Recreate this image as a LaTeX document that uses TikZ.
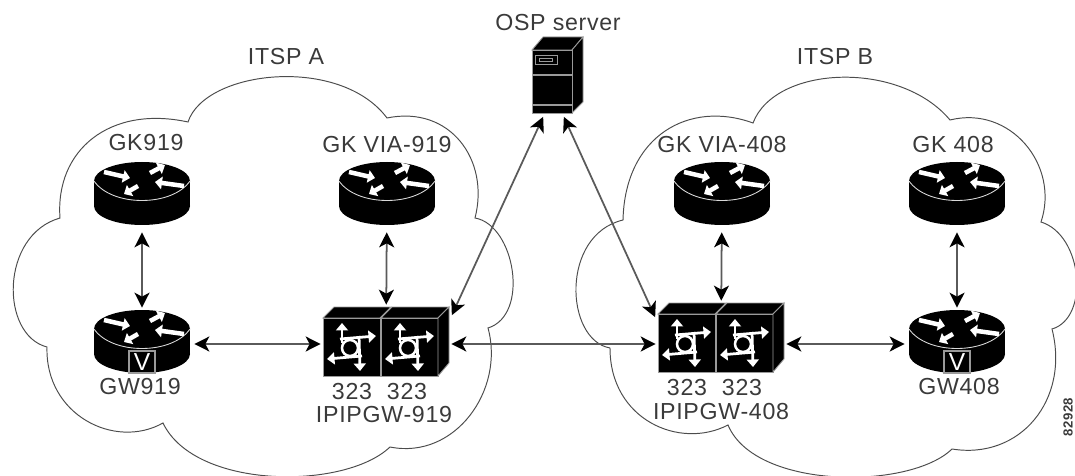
\documentclass[tikz,border=0pt]{standalone}
\usepackage{fontspec}
\setmainfont[LetterSpace=3]{Liberation Sans}
\usetikzlibrary{arrows.meta}

\definecolor{textgray}{HTML}{3A3A3A}
\definecolor{linkgray}{HTML}{5A5A5A}
\definecolor{edgegray}{HTML}{9A9A9A}

\tikzset{
    devlabel/.style={text=textgray, inner sep=0pt, font=\fontsize{13.2}{15}\selectfont},
    devnode/.style={inner sep=0pt, minimum width=2cm, minimum height=1.36cm},
    link/.style={draw=linkgray, line width=1pt, shorten <=0.04cm, shorten >=0.04cm,
        {Stealth[length=0.3cm,width=0.3cm,inset=0.08cm,color=black]}-{Stealth[length=0.3cm,width=0.3cm,inset=0.08cm,color=black]}},
    cloudline/.style={draw=black!70, line width=0.55pt},
    routerarrow/.style={draw=white, line width=0.09cm, -{Triangle[length=0.14cm,width=0.25cm,color=white]}},
    switcharrow/.style={draw=white, line width=0.055cm, -{Triangle[length=0.15cm,width=0.24cm,color=white]}},
    edge/.style={draw=edgegray, line width=0.5pt},
}

\NewDocumentCommand{\router}{mmmO{}}{%
\begin{scope}[shift={(#2,#3)}]%
\fill[black] (-48,-15) rectangle (48,10);
\fill[black] (0,-15) ellipse [x radius=48, y radius=19];
\fill[black] (0,10) ellipse [x radius=48, y radius=19];
\draw[edge, draw=white!85!black] (-48,-15) .. controls (-30,11) and (30,11) .. (48,-15);
\draw[routerarrow] (-38,-24) -- (-12,-18);
\draw[routerarrow] (8,-23) -- (23,-31);
\draw[routerarrow] (42,-10) -- (13,-14);
\draw[routerarrow] (-4,-10) -- (-18,-2);
\node[devnode] (#1) at (0,0) {};
#4
\end{scope}%
}

\NewDocumentCommand{\voicetag}{m}{%
\draw[edge, fill=black, line width=0.9pt] (-13,7) rectangle (13,29);
\node[text=white, inner sep=0pt, font=\fontsize{14}{15}\selectfont] (#1v) at (0,18) {V};
}

\NewDocumentCommand{\switchpair}{mmm}{%
\begin{scope}[shift={(#2,#3)}]%
\foreach \cx in {-63,-5} {
\begin{scope}[shift={(\cx,0)}]
\filldraw[edge, fill=black] (0,-24) -- (11,-35) -- (68,-35) -- (57,-24) -- cycle;
\filldraw[edge, fill=black] (0,-24) rectangle (57,34);
\begin{scope}[shift={(27,6)}]
\draw[switcharrow] (-8,-5) -- (-8,-25);
\draw[switcharrow] (-10,-9) -- (26,-12);
\draw[switcharrow] (9,-12) -- (10,23);
\draw[switcharrow] (12,8) -- (-23,11);
\filldraw[draw=white, fill=black, line width=0.05cm] (0,0) circle [radius=8];
\end{scope}
\end{scope}
}
\filldraw[edge, fill=black] (52,-24) -- (63,-35) -- (63,21) -- (52,34) -- cycle;
\node[inner sep=0pt, minimum width=2.52cm, minimum height=1.4cm] (#1) at (0,0) {};
\end{scope}%
}

\begin{document}
\begin{tikzpicture}[x=0.02cm, y=-0.02cm]
    \useasboundingbox (0,0) rectangle (1075,476);

    % Clouds.
    \draw[cloudline] (60,218) .. controls (55,150) and (110,105) .. (188,122)
        .. controls (205,70) and (340,55) .. (387,118)
        .. controls (450,105) and (490,160) .. (475,218)
        .. controls (515,225) and (530,315) .. (488,328)
        .. controls (505,390) and (455,460) .. (390,447)
        .. controls (345,490) and (195,490) .. (163,423)
        .. controls (115,450) and (45,415) .. (47,347)
        .. controls (0,335) and (0,235) .. cycle;
    \draw[cloudline] (623,220) .. controls (625,135) and (690,100) .. (753,123)
        .. controls (775,65) and (900,60) .. (950,120)
        .. controls (1010,105) and (1060,165) .. (1041,222)
        .. controls (1083,235) and (1090,318) .. (1052,329)
        .. controls (1070,400) and (1020,460) .. (952,449)
        .. controls (910,490) and (755,490) .. (728,425)
        .. controls (680,450) and (610,420) .. (610,348)
        .. controls (565,340) and (560,235) .. cycle;

    % Server.
    \begin{scope}
        \filldraw[edge, fill=black] (532,50) -- (543,37) -- (583,37) -- (572,50) -- cycle;
        \filldraw[edge, fill=black] (572,50) -- (583,37) -- (583,102) -- (572,113) -- cycle;
        \filldraw[edge, fill=black] (532,50) rectangle (572,113);
        \draw[edge] (535,55) rectangle (557,64);
        \draw[edge] (539,58) rectangle (552,61);
        \draw[edge, line width=0.9pt] (532,75) -- (572,75);
        \draw[edge, line width=0.9pt] (532,105) -- (572,105);
        \node[inner sep=0pt, minimum width=1.02cm, minimum height=1.52cm] (osp) at (557.5,75) {};
    \end{scope}

    % Devices.
    \router{gk919}{142}{196}
    \router{gkvia919}{387}{196}
    \router{gkvia408}{722}{196}
    \router{gk408}{957}{196}
    \router{gw919}{142}{344}[\voicetag{gw919}]
    \router{gw408}{957}{344}[\voicetag{gw408}]
    \switchpair{ipipgw919}{386}{342}
    \switchpair{ipipgw408}{721}{338}

    % Labels.
    \node[devlabel] (itspa) at (286,57) {ITSP A};
    \node[devlabel] (itspb) at (835,57) {ITSP B};
    \node[devlabel] (osplabel) at (558,23) {OSP server};
    \node[devlabel] (gk919label) at (146,143) {GK919};
    \node[devlabel] (gkvia919label) at (387,145) {GK VIA-919};
    \node[devlabel] (gkvia408label) at (722,145) {GK VIA-408};
    \node[devlabel] (gk408label) at (953,145) {GK 408};
    \node[devlabel] (gw919label) at (140,387) {GW919};
    \node[devlabel] (gw408label) at (959,387) {GW408};
    \node[devlabel] (h323a) at (352,392) {323};
    \node[devlabel] (ip323a) at (407,392) {323};
    \node[devlabel] (ipipgw919label) at (384,415) {IPIPGW-919};
    \node[devlabel] (h323b) at (687,388) {323};
    \node[devlabel] (ip323b) at (742,388) {323};
    \node[devlabel] (ipipgw408label) at (721,412) {IPIPGW-408};
    \node[text=textgray, inner sep=0pt, rotate=90, font=\fontsize{7.5}{9}\selectfont\bfseries] (figno) at (1068,417) {82928};

    % Links.
    \coordinate (ospa) at (544,115);
    \coordinate (ospb) at (563,115);
    \coordinate (swaport) at (451,317);
    \coordinate (swbport) at (656,319);
    \draw[link] (gk919) -- (gw919);
    \draw[link] (gkvia919) -- (ipipgw919);
    \draw[link] (gkvia408) -- (ipipgw408);
    \draw[link] (gk408) -- (gw408);
    \draw[link] (gw919) -- (ipipgw919.west |- gw919);
    \draw[link] (ipipgw919.east |- gw919) -- (ipipgw408.west |- gw408);
    \draw[link] (ipipgw408.east |- gw408) -- (gw408);
    \draw[link] (swaport) -- (ospa);
    \draw[link] (swbport) -- (ospb);
\end{tikzpicture}
\end{document}
